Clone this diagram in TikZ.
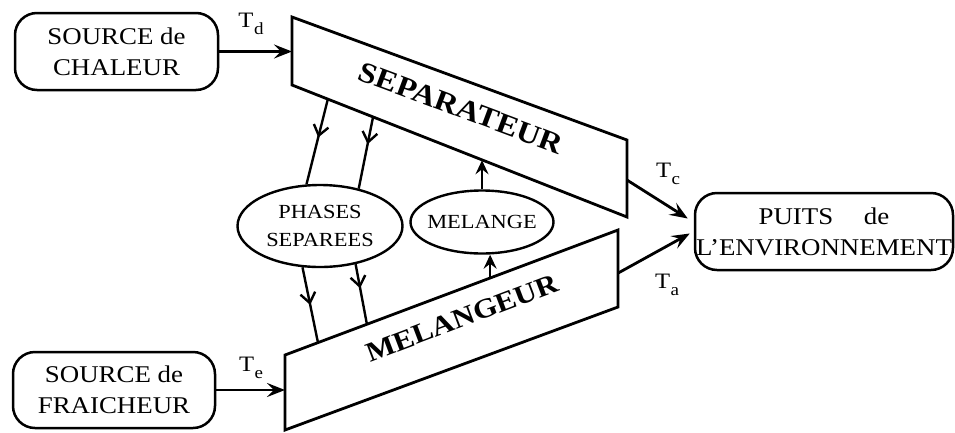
\documentclass[tikz,border=0pt]{standalone}
\usepackage{fontspec}
\setmainfont{Liberation Serif}[FakeStretch=1.12]
\usetikzlibrary{arrows.meta,decorations.markings,shapes.geometric,calc}
\tikzset{
  boxnode/.style={draw, line width=2.5pt, rounded corners=22pt, align=center,
    font=\fontsize{24}{31}\selectfont, inner sep=0pt},
  ellnode/.style={draw, ellipse, line width=2.4pt, inner sep=0pt, align=center,
    font=\fontsize{20}{28}\selectfont},
  block/.style={draw, line width=2.8pt, line join=miter},
  flow/.style={line width=2.8pt, -{Stealth[length=18pt,width=14pt,inset=7pt]}},
  smallflow/.style={line width=2.4pt, -{Stealth[length=14pt,width=13pt,inset=5pt]}},
  midarrow/.style={line width=2.4pt, postaction={decorate},
    decoration={markings, mark=at position #1 with
      {\arrow{Straight Barb[length=10pt,width=15pt,line width=2.4pt]}}}},
  tlabel/.style={font=\fontsize{22}{22}\selectfont, inner sep=0pt},
  bigtext/.style={font=\bfseries\fontsize{27.5}{28}\selectfont, inner sep=0pt}
}
\newcommand{\Tsub}[1]{T\kern0.5pt\raisebox{-7pt}{\fontsize{17}{17}\selectfont #1}}
\begin{document}
\begin{tikzpicture}[x=1pt,y=-1pt]
\useasboundingbox (0,0) rectangle (955,432);
% boxes
\node[boxnode, minimum width=203pt, minimum height=77pt] (chaleur) at (116.5,51.5) {SOURCE de\\CHALEUR};
\node[boxnode, minimum width=202pt, minimum height=76pt] (fraich) at (114,390) {SOURCE de\\FRAICHEUR};
\node[boxnode, minimum width=258pt, minimum height=77pt] (puits) at (824,231.5) {PUITS\quad\ de\\L'ENVIRONNEMENT};
% separateur
\coordinate (sA) at (292,17);
\coordinate (sB) at (627,140);
\coordinate (sC) at (627,217);
\coordinate (sD) at (292,85);
\draw[block] (sA) -- (sB) -- (sC) -- (sD) -- cycle;
\node[bigtext, font=\bfseries\fontsize{29}{29}\selectfont, rotate=-20.5] (septext) at (461,108) {SEPARATEUR};
% melangeur
\coordinate (mA) at (285,355);
\coordinate (mB) at (618,230);
\coordinate (mC) at (618,307);
\coordinate (mD) at (285,430);
\draw[block] (mA) -- (mB) -- (mC) -- (mD) -- cycle;
\node[bigtext, rotate=20.8] (meltext) at (462,318) {MELANGEUR};
% ellipses
\node[ellnode, minimum width=165pt, minimum height=82pt] (phases) at (320,226) {PHASES\\SEPAREES};
\node[ellnode, inner sep=-6pt, minimum width=143pt, minimum height=63pt] (melange) at (482,222) {MELANGE};
% inputs
\draw[flow] (chaleur.east) -- (chaleur.east -| sA);
\draw[flow] (fraich.east) -- (fraich.east -| mA);
\node[tlabel] (td) at (251,24) {\Tsub{d}};
\node[tlabel] (te) at (251,368) {\Tsub{e}};
% outputs
\coordinate (sR) at ($(sB)!0.52!(sC)$);
\coordinate (mR) at ($(mB)!0.56!(mC)$);
\draw[flow] (sR) -- ($(puits.west)+(-6,-13)$);
\draw[flow] (mR) -- ($(puits.west)+(-4,2)$);
\node[tlabel] (tc) at (668,174) {\Tsub{c}};
\node[tlabel] (ta) at (667,285) {\Tsub{a}};
% separateur -> phases
\coordinate (s1) at ($(sD)!0.107!(sC)$);
\coordinate (s2) at ($(sD)!0.242!(sC)$);
\draw[midarrow=0.45] (s1) -- (phases.108);
\draw[midarrow=0.38] (s2) -- (phases.44);
% phases -> melangeur
\coordinate (m1) at ($(mA)!0.099!(mB)$);
\coordinate (m2) at ($(mA)!0.246!(mB)$);
\draw[midarrow=0.5] (phases.247) -- (m1);
\draw[midarrow=0.4] (phases.313) -- (m2);
% melange arrows
\coordinate (s3) at ($(sD)!0.57!(sC)$);
\draw[smallflow] (melange.north) -- (melange.north |- s3);
\coordinate (m3) at ($(mA)!0.616!(mB)$);
\draw[smallflow] (m3) -- (m3 |- melange.south);
\end{tikzpicture}
\end{document}
